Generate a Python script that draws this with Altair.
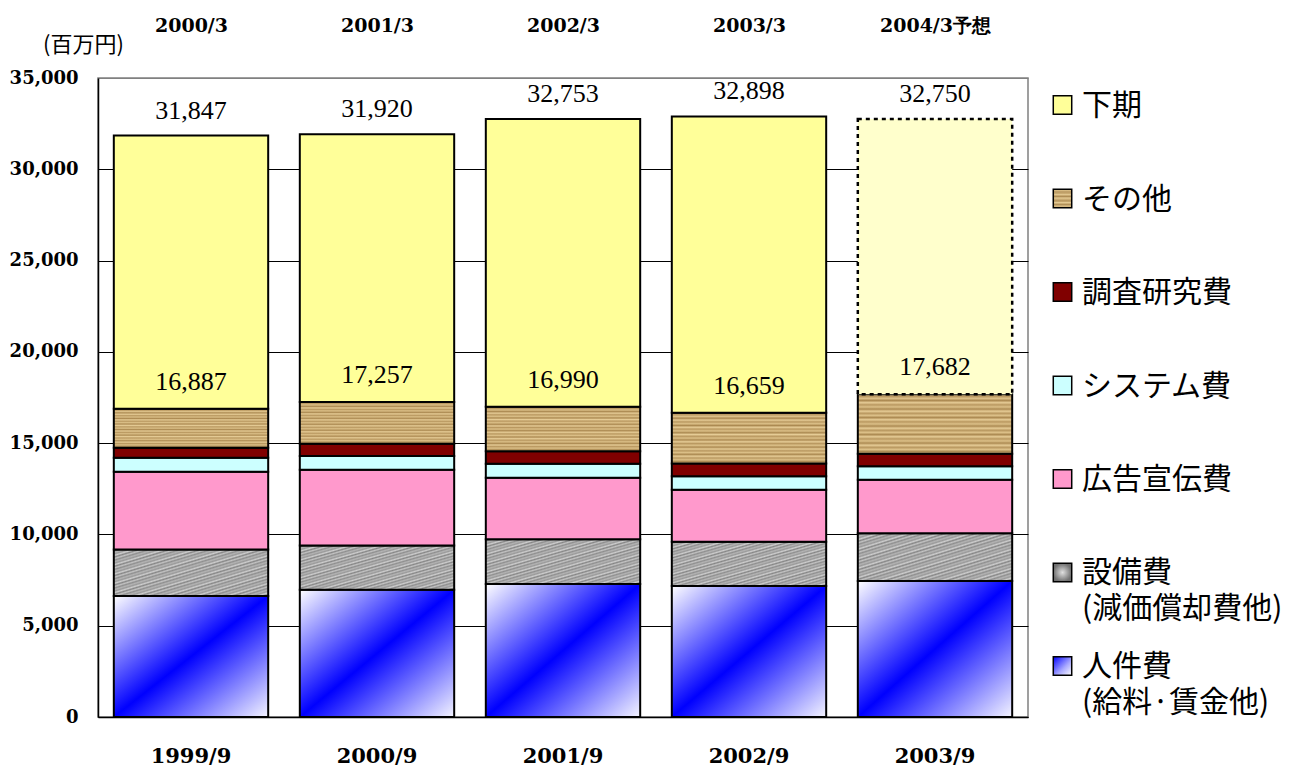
import altair as alt
import pandas as pd

# ---------------- data ----------------
periods = ["1999/9", "2000/9", "2001/9", "2002/9", "2003/9"]
fiscal_years = ["2000/3", "2001/3", "2002/3", "2003/3", "2004/3予想"]
categories = ["人件費", "設備費", "広告宣伝費", "システム費", "調査研究費", "その他", "下期"]
legend_labels = ["人件費\n(給料·賃金他)", "設備費\n(減価償却費他)", "広告宣伝費",
                 "システム費", "調査研究費", "その他", "下期"]

personnel = [6630, 6970, 7280, 7170, 7450]
equipment = [2550, 2430, 2450, 2430, 2610]
advertising = [4250, 4140, 3380, 2850, 2940]
system_cost = [770, 750, 760, 730, 730]
research = [550, 680, 680, 710, 690]
other = [2137, 2287, 2440, 2769, 3262]
second_half = [14960, 14663, 15763, 16239, 15068]
first_half_totals = [16887, 17257, 16990, 16659, 17682]
annual_totals = [31847, 31920, 32753, 32898, 32750]
is_forecast = [False, False, False, False, True]

series = [personnel, equipment, advertising, system_cost, research, other, second_half]

rows = []
for ci, (cat, vals) in enumerate(zip(categories, series)):
    for pi, p in enumerate(periods):
        rows.append({"period": p, "fy": fiscal_years[pi], "category": cat, "order": ci,
                     "value": vals[pi], "forecast": is_forecast[pi]})
df = pd.DataFrame(rows)

labels_df = pd.DataFrame({"period": periods, "fy": fiscal_years,
                          "half": first_half_totals, "total": annual_totals})
legend_df = pd.DataFrame({"category": categories, "label": legend_labels})

# ---------------- styles ----------------
def stops(colors, n):
    return [alt.GradientStop(offset=i / n, color=colors[i % len(colors)]) for i in range(n + 1)]

fills = {
    "人件費": alt.LinearGradient(gradient="linear", x1=0, y1=0, x2=1, y2=1,
                               stops=[alt.GradientStop(offset=0, color="#FFFFFF"),
                                      alt.GradientStop(offset=0.5, color="#0000FF"),
                                      alt.GradientStop(offset=1, color="#F4F4FF")]),
    "設備費": alt.LinearGradient(gradient="linear", x1=0, y1=0, x2=1, y2=1,
                               stops=stops(["#C4C4C4", "#8E8E8E", "#B4B4B4", "#999999",
                                            "#CFCFCF", "#858585"], 60)),
    "広告宣伝費": "#FF99CC",
    "システム費": "#CCFFFF",
    "調査研究費": "#800000",
    "その他": alt.LinearGradient(gradient="linear", x1=0, y1=0, x2=0, y2=1,
                              stops=stops(["#E6CC96", "#B99860", "#DCC088", "#AC8A52"], 28)),
}
legend_fills = dict(fills)
legend_fills["下期"] = "#FFFF99"
legend_fills["人件費"] = alt.LinearGradient(gradient="linear", x1=0, y1=0, x2=1, y2=1,
                                         stops=[alt.GradientStop(offset=0, color="#0000FF"),
                                                alt.GradientStop(offset=0.6, color="#AAAAFF"),
                                                alt.GradientStop(offset=1, color="#FFFFFF")])
legend_fills["設備費"] = alt.RadialGradient(gradient="radial",
                                         stops=[alt.GradientStop(offset=0, color="#E0E0E0"),
                                                alt.GradientStop(offset=1, color="#707070")])

xscale_p = alt.Scale(domain=periods, paddingInner=0.17, paddingOuter=0.085)
xscale_f = alt.Scale(domain=fiscal_years, paddingInner=0.17, paddingOuter=0.085)
yscale = alt.Scale(domain=[0, 35000], nice=False)

SERIF_AX = "DejaVu Serif"

yaxis = alt.Axis(values=list(range(0, 35001, 5000)), format=",d",
                 labelFont=SERIF_AX, labelFontWeight="bold", labelFontSize=18,
                 labelColor="black", labelPadding=20, ticks=False, tickSize=0,
                 domainColor="black", domainWidth=1.5,
                 grid=True, gridWidth=1,
                 gridColor={"condition": {"test": "datum.value >= 35000", "value": "#808080"},
                            "value": "black"},
                 title="(百万円)", titleAngle=0, titleX=-15, titleY=-34,
                 titleAlign="center", titleBaseline="middle",
                 titleFont="Noto Sans CJK JP", titleFontSize=22, titleFontWeight="normal",
                 titleColor="black", minExtent=89, maxExtent=89)

bottom_axis = alt.Axis(orient="bottom", title=None, labelAngle=0,
                       labelFont=SERIF_AX, labelFontWeight="bold", labelFontSize=21,
                       labelColor="black", labelPadding=45, labelBaseline="alphabetic",
                       ticks=False, tickSize=0, domainColor="black", domainWidth=1.5)

top_axis = alt.Axis(orient="top", title=None, labelAngle=0,
                    labelFont=SERIF_AX, labelFontWeight="bold", labelFontSize=19,
                    labelColor="black", labelPadding=47, labelBaseline="alphabetic",
                    ticks=False, tickSize=0, domain=False, minExtent=69)

base = alt.Chart(df).transform_stack(
    stack="value", groupby=["period"], as_=["y0", "y1"],
    sort=[alt.SortField("order", order="ascending")]
)

Y = lambda f: alt.Y(f, scale=yscale, axis=yaxis)

layers = []
for i, cat in enumerate(categories[:-1]):
    layers.append(
        base.transform_filter(alt.datum.category == cat)
        .mark_bar(fill=fills[cat], stroke="black", strokeWidth=2)
        .encode(
            x=alt.X("period:N", sort=periods, scale=xscale_p,
                    axis=bottom_axis if i == 0 else None),
            y=Y("y0:Q"),
            y2="y1:Q",
        )
    )

# second half (actual)
layers.append(
    base.transform_filter((alt.datum.category == "下期") & (alt.datum.forecast == False))
    .mark_bar(fill="#FFFF99", stroke="black", strokeWidth=2)
    .encode(x=alt.X("period:N", sort=periods, scale=xscale_p, axis=None),
            y=Y("y0:Q"), y2="y1:Q")
)
# second half (forecast)
layers.append(
    base.transform_filter((alt.datum.category == "下期") & (alt.datum.forecast == True))
    .mark_bar(fill="#FFFFCC", stroke="black", strokeWidth=2.5, strokeDash=[4, 4])
    .encode(x=alt.X("period:N", sort=periods, scale=xscale_p, axis=None),
            y=Y("y0:Q"), y2="y1:Q")
)

half_text = alt.Chart(labels_df).mark_text(
    font="Liberation Serif", fontSize=26, baseline="alphabetic", dy=-19, color="black"
).encode(
    x=alt.X("period:N", sort=periods, scale=xscale_p, axis=None),
    y=Y("half:Q"),
    text=alt.Text("half:Q", format=","),
)

total_text = alt.Chart(labels_df).mark_text(
    font="Liberation Serif", fontSize=26, baseline="alphabetic", dy=-17, color="black"
).encode(
    x=alt.X("fy:N", sort=fiscal_years, scale=xscale_f, axis=top_axis),
    y=Y("total:Q"),
    text=alt.Text("total:Q", format=","),
)

main = alt.layer(*layers, half_text, total_text).resolve_scale(x="independent").properties(
    width=930, height=639,
    view=alt.ViewBackground(stroke="#808080", strokeWidth=1.5),
)

# ---------------- legend ----------------
legend_order = categories[::-1]
lscale = alt.Scale(type="point", padding=0.289)
lbase = alt.Chart(legend_df)
leg_layers = []
for cat in categories:
    leg_layers.append(
        lbase.transform_filter(alt.datum.category == cat)
        .mark_square(size=340, fill=legend_fills[cat], stroke="black", strokeWidth=1.5, opacity=1)
        .encode(x=alt.value(18.5),
                y=alt.Y("category:N", sort=legend_order, scale=lscale, axis=None))
    )
leg_text = lbase.mark_text(
    align="left", baseline="alphabetic", dy=10, font="Noto Sans CJK JP", fontSize=30,
    lineBreak="\n", lineHeight=36, color="black"
).encode(
    x=alt.value(38),
    y=alt.Y("category:N", sort=legend_order, scale=lscale, axis=None),
    text="label:N",
)
legend = alt.layer(*leg_layers, leg_text).properties(
    width=230, height=615, view=alt.ViewBackground(stroke="transparent")
)

chart = alt.hconcat(main, legend, spacing=14).properties(padding=0).configure(
    background="white"
).configure_view(stroke="transparent")

chart.save("out.html", embed_options={"renderer": "svg", "actions": False})
